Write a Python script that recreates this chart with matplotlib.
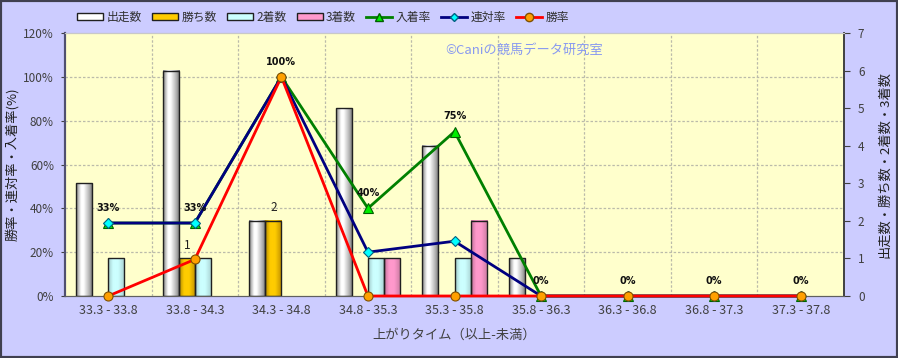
import numpy as np
import matplotlib
matplotlib.use("Agg")
import matplotlib.pyplot as plt
from matplotlib.patches import Rectangle
from matplotlib.colors import LinearSegmentedColormap
from matplotlib.lines import Line2D

plt.rcParams['font.family'] = ['Noto Sans CJK JP', 'DejaVu Sans']

categories = ["33.3 - 33.8", "33.8 - 34.3", "34.3 - 34.8", "34.8 - 35.3", "35.3 - 35.8",
              "35.8 - 36.3", "36.3 - 36.8", "36.8 - 37.3", "37.3 - 37.8"]
starts = [3, 6, 2, 5, 4, 1, 0, 0, 0]
wins = [0, 1, 2, 0, 0, 0, 0, 0, 0]
seconds = [1, 1, 0, 1, 1, 0, 0, 0, 0]
thirds = [0, 0, 0, 1, 2, 0, 0, 0, 0]
place_rate = [33.3, 33.3, 100, 40, 75, 0, 0, 0, 0]
rentai_rate = [33.3, 33.3, 100, 20, 25, 0, 0, 0, 0]
win_rate = [0, 16.7, 100, 0, 0, 0, 0, 0, 0]
pct_ticks = [0, 20, 40, 60, 80, 100, 120]
count_ticks = [0, 1, 2, 3, 4, 5, 6, 7]

W, H = 898, 358
fig = plt.figure(figsize=(W / 100, H / 100), dpi=100)
fig.patch.set_facecolor('#CCCCFF')

L, R, T, B = 65, 844, 33, 296
ax = fig.add_axes([L / W, 1 - B / H, (R - L) / W, (B - T) / H])
ax2 = ax.twinx()
ax.set_zorder(ax2.get_zorder() + 1)
ax.patch.set_visible(False)
ax2.patch.set_visible(True)
ax2.patch.set_facecolor('#FFFFCC')

n = len(categories)
x = np.arange(n)
ax.set_xlim(-0.5, n - 0.5)
ax2.set_xlim(-0.5, n - 0.5)
ax.set_ylim(0, 120)
ax2.set_ylim(0, 7)

# grid on ax2 (behind bars)
for p in pct_ticks[1:-1]:
    ax2.axhline(p / 120 * 7, color='#BBBBAA', lw=0.9, ls=(0, (2, 1.5)), zorder=0.5)
for k in range(n - 1):
    ax2.axvline(k + 0.5, color='#BBBBAA', lw=0.9, ls=(0, (2, 1.5)), zorder=0.5)

def cmap_from(cols):
    return LinearSegmentedColormap.from_list('c', cols)

bar_styles = [
    (starts, cmap_from([(0, '#808080'), (0.3, '#FFFFFF'), (0.45, '#FFFFFF'), (0.8, '#B0B0B0'), (1, '#707070')]), '#FFFFFF', '出走数'),
    (wins, cmap_from([(0, '#B08800'), (0.3, '#FFCC00'), (0.6, '#FFCC00'), (1, '#C09000')]), '#FFCC00', '勝ち数'),
    (seconds, cmap_from([(0, '#A0C8C8'), (0.3, '#CCFFFF'), (0.6, '#CCFFFF'), (1, '#A8D0D0')]), '#CCFFFF', '2着数'),
    (thirds, cmap_from([(0, '#C07098'), (0.3, '#FF99CC'), (0.6, '#FF99CC'), (1, '#C87AA0')]), '#FF99CC', '3着数'),
]
bw = 0.185
offsets = [-1.5, -0.5, 0.5, 1.5]
grad = np.linspace(0, 1, 64).reshape(1, -1)
for (vals, cm, fc, lab), off in zip(bar_styles, offsets):
    for xi, v in zip(x, vals):
        if v <= 0:
            continue
        x0 = xi + off * bw - bw / 2
        ax2.imshow(grad, extent=[x0, x0 + bw, 0, v], aspect='auto', cmap=cm,
                   interpolation='bicubic', zorder=2)
        ax2.add_patch(Rectangle((x0, 0), bw, v, fill=False, edgecolor='#202020', lw=1.0, zorder=3))
ax2.set_xlim(-0.5, n - 0.5)
ax2.set_ylim(0, 7)

# count labels on wins
for xi, v in zip(x, wins):
    if v > 0:
        ax2.annotate(str(v), (xi - 0.5 * bw, v), xytext=(0, 9.5), textcoords='offset points',
                     ha='center', va='center', fontsize=8.5, color='#202020', zorder=6)

# rate lines
ax.plot(x, place_rate, color='#008000', lw=2, marker='^', ms=7, mfc='#00EE00', mec='#006000',
        mew=0.8, zorder=4, clip_on=False)
ax.plot(x, rentai_rate, color='#000080', lw=2, marker='D', ms=5, mfc='#00FFFF', mec='#006080',
        mew=0.8, zorder=5, clip_on=False)
ax.plot(x, win_rate, color='#FF0000', lw=2, marker='o', ms=6.5, mfc='#FFA000', mec='#805000',
        mew=0.8, zorder=6, clip_on=False)

for xi, v in zip(x, place_rate):
    ax.annotate(f"{int(round(v))}%", (xi, v), xytext=(0, 11), textcoords='offset points',
                ha='center', va='center', fontsize=7, fontweight='bold', color='#101010',
                family=['DejaVu Sans'], zorder=7)

# axes styling
ax.set_xticks(x)
ax.set_xticklabels(categories, fontsize=9, color='#404040')
ax.set_yticks(pct_ticks)
ax.set_yticklabels([f"{p}%" for p in pct_ticks], fontsize=8.5, color='#404040')
ax2.set_yticks(count_ticks)
ax2.set_yticklabels([str(c) for c in count_ticks], fontsize=8.5, color='#404040')
ax.tick_params(axis='x', length=0, pad=6)
ax.tick_params(axis='y', length=3, color='#404040', pad=5)
ax2.tick_params(axis='y', length=4, color='#404040', pad=6)

for a in (ax, ax2):
    a.spines['top'].set_color('#C8C8C8')
    a.spines['bottom'].set_color('#606060')
    a.spines['left'].set_color('#505070')
    a.spines['right'].set_color('#404040')
    a.spines['left'].set_linewidth(1.5)
    a.spines['right'].set_linewidth(1.2)

ax.set_ylabel('勝率・連対率・入着率(%)', fontsize=9.5, color='#202020', labelpad=3)
ax2.set_ylabel('出走数・勝ち数・2着数・3着数', fontsize=9.5, color='#202020', labelpad=10)
ax.set_xlabel('上がりタイム（以上-未満）', fontsize=9.5, color='#404040', labelpad=8)

ax.text((445 - L) / (R - L), 0.935, '©Caniの競馬データ研究室', transform=ax.transAxes, fontsize=9.5,
        color='#8899F0', ha='left', va='center', zorder=8)

# legend
handles = []
for vals, cm, fc, lab in bar_styles:
    handles.append(Rectangle((0, 0), 1, 1, facecolor=fc, edgecolor='#202020', lw=1, label=lab))
handles.append(Line2D([], [], color='#008000', lw=2, marker='^', ms=6, mfc='#00EE00', mec='#006000', label='入着率'))
handles.append(Line2D([], [], color='#000080', lw=2, marker='D', ms=4.5, mfc='#00FFFF', mec='#006080', label='連対率'))
handles.append(Line2D([], [], color='#FF0000', lw=2, marker='o', ms=6, mfc='#FFA000', mec='#805000', label='勝率'))
leg = fig.legend(handles=handles, loc='center', bbox_to_anchor=(323 / W, 1 - 17 / H), ncol=7,
                 frameon=False, fontsize=8.5, handlelength=2.2, handleheight=0.55,
                 handletextpad=0.3, columnspacing=0.85)
for t in leg.get_texts():
    t.set_color('#303030')

# outer border
fig.patches.append(Rectangle((0, 0), 1, 1, transform=fig.transFigure, fill=False,
                             edgecolor='#404050', lw=3, zorder=10))

fig.savefig('out.png', dpi=100, facecolor=fig.get_facecolor())
